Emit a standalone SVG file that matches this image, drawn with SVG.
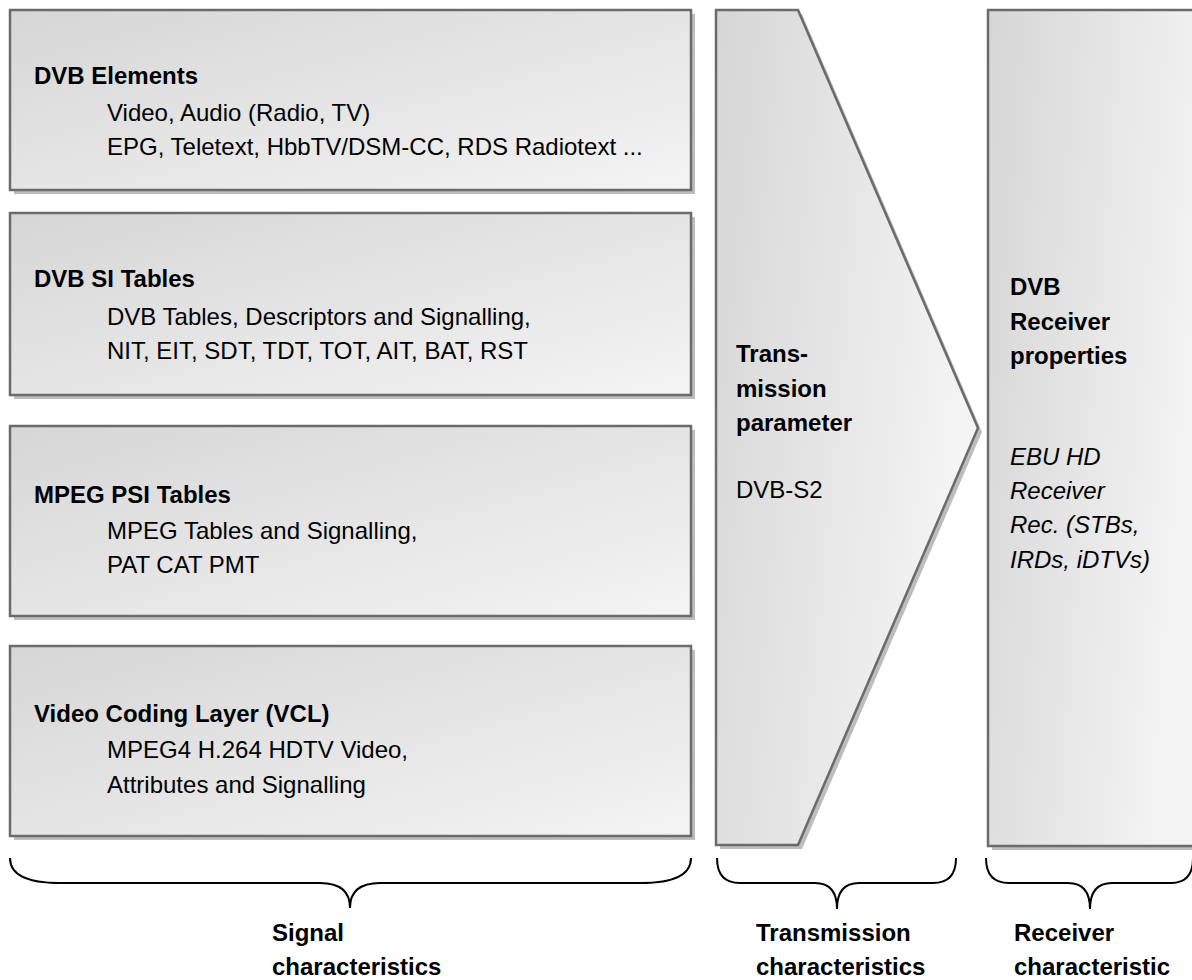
<svg xmlns="http://www.w3.org/2000/svg" width="1192" height="980" viewBox="0 0 1192 980">
<defs>
<linearGradient id="g" x1="0" y1="0" x2="1" y2="1">
<stop offset="0" stop-color="#d6d6d6"/>
<stop offset="1" stop-color="#f4f4f4"/>
</linearGradient>
<linearGradient id="gv" x1="0" y1="0" x2="1" y2="0.3">
<stop offset="0" stop-color="#d6d6d6"/>
<stop offset="1" stop-color="#f4f4f4"/>
</linearGradient>
<style>
.box{fill:url(#g);stroke:#6b6b6b;stroke-width:2.5}
.tall{fill:url(#gv);stroke:#6b6b6b;stroke-width:2.5}
.sh{fill:#bdbdbd}
text{font-family:"Liberation Sans",Arial,sans-serif;font-size:24px;fill:#000}
.b{font-weight:bold}
.i{font-style:italic}
.brace{fill:none;stroke:#000;stroke-width:2}
</style>
</defs>
<g id="dvb-elements">
<rect class="sh" x="14" y="14" width="681" height="180"/>
<rect class="box" x="10" y="10" width="681" height="180"/>
<text class="b" x="34" y="84">DVB Elements</text>
<text x="107" y="121">Video, Audio (Radio, TV)</text>
<text x="107" y="155">EPG, Teletext, HbbTV/DSM-CC, RDS Radiotext ...</text>
</g>
<g id="dvb-si">
<rect class="sh" x="14" y="217" width="681" height="182"/>
<rect class="box" x="10" y="213" width="681" height="182"/>
<text class="b" x="34" y="287">DVB SI Tables</text>
<text x="107" y="325">DVB Tables, Descriptors and Signalling,</text>
<text x="107" y="359">NIT, EIT, SDT, TDT, TOT, AIT, BAT, RST</text>
</g>
<g id="mpeg-psi">
<rect class="sh" x="14" y="430" width="681" height="190"/>
<rect class="box" x="10" y="426" width="681" height="190"/>
<text class="b" x="34" y="503">MPEG PSI Tables</text>
<text x="107" y="539">MPEG Tables and Signalling,</text>
<text x="107" y="573">PAT CAT PMT</text>
</g>
<g id="vcl">
<rect class="sh" x="14" y="650" width="681" height="190"/>
<rect class="box" x="10" y="646" width="681" height="190"/>
<text class="b" x="34" y="722">Video Coding Layer (VCL)</text>
<text x="107" y="758">MPEG4 H.264 HDTV Video,</text>
<text x="107" y="793">Attributes and Signalling</text>
</g>
<g id="transmission">
<polygon class="sh" points="720,14 802,14 982,432 802,849 720,849"/>
<polygon class="tall" points="716,10 798,10 978,428 798,845 716,845"/>
<text class="b" x="736" y="362">Trans-</text>
<text class="b" x="736" y="397">mission</text>
<text class="b" x="736" y="431">parameter</text>
<text x="736" y="498">DVB-S2</text>
</g>
<g id="receiver">
<rect class="sh" x="992" y="14" width="220" height="836"/>
<rect class="tall" x="988" y="10" width="220" height="836"/>
<text class="b" x="1010" y="295">DVB</text>
<text class="b" x="1010" y="330">Receiver</text>
<text class="b" x="1010" y="364">properties</text>
<text class="i" x="1010" y="465">EBU HD</text>
<text class="i" x="1010" y="499">Receiver</text>
<text class="i" x="1010" y="533">Rec. (STBs,</text>
<text class="i" x="1010" y="568">IRDs, iDTVs)</text>
</g>
<g id="connectors">
<path class="brace" d="M10,858 Q10,883 60,883 L320,883 Q350,883 350,908 Q350,883 380,883 L641,883 Q691,883 691,858"/>
<path class="brace" d="M717,858 Q717,883 740,883 L815,883 Q837,883 837,909 Q837,883 859,883 L933,883 Q956,883 956,858"/>
<path class="brace" d="M986,858 Q986,883 1009,883 L1068,883 Q1090,883 1090,909 Q1090,883 1112,883 L1171,883 Q1193,883 1193,858"/>
</g>
<g id="labels">
<text class="b" x="272" y="941">Signal</text>
<text class="b" x="272" y="975">characteristics</text>
<text class="b" x="756" y="941">Transmission</text>
<text class="b" x="756" y="975">characteristics</text>
<text class="b" x="1014" y="941">Receiver</text>
<text class="b" x="1014" y="975">characteristic</text>
</g>
</svg>
